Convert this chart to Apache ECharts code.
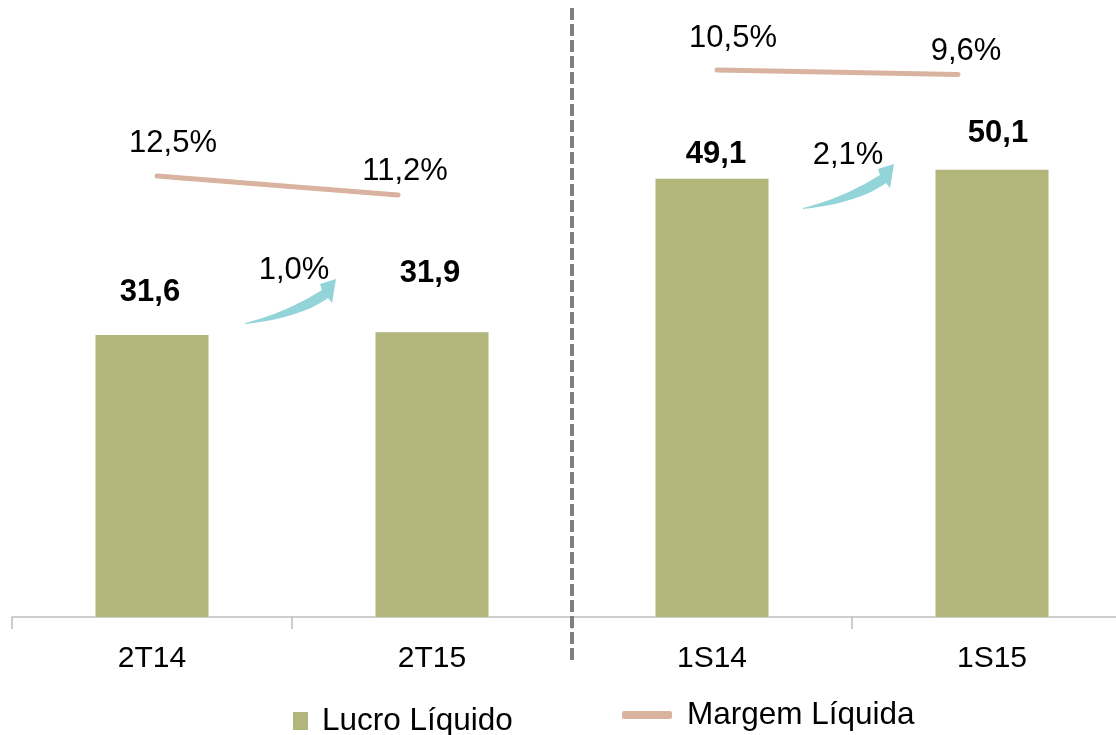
<!DOCTYPE html>
<html>
<head>
<meta charset="utf-8">
<style>
    html, body { margin: 0; padding: 0; background: #fff; }
    #chart { width: 1116px; height: 735px; }
</style>
<script src="https://cdn.jsdelivr.net/npm/echarts@6/dist/echarts.min.js"></script>
</head>
<body>
<div id="chart"></div>
<script>
// dados
const periodosTri = ['2T14', '2T15'];
const periodosSem = ['1S14', '1S15'];
const lucroTri = [31.6, 31.9];
const lucroSem = [49.1, 50.1];
const margemTri = [12.5, 11.2];
const margemSem = [10.5, 9.6];
const crescimento = ['1,0%', '2,1%'];

// deslocamento dos rótulos (estilo, fora dos dados)
const offLucroTri = [[-2, -27], [-2, -43]];
const offLucroSem = [[4, -9], [6, -21]];
const offMargemTri = [[16, -17], [7, -8]];
const offMargemSem = [[16, -15], [8, -7]];

const corBarra = '#b2b67b';
const corLinha = '#d9b3a0';
const corSeta = '#93d4d8';
const fonte = '"Liberation Sans", Arial, sans-serif';

function fmt(v) {
    return v.toFixed(1).replace('.', ',');
}

function barras(valores, offs) {
    return valores.map(function (v, i) {
        return { value: v, label: { offset: offs[i] } };
    });
}

function linha(valores, offs) {
    return valores.map(function (v, i) {
        return { value: [i, v], label: { offset: offs[i] } };
    });
}

// curva quadrática amostrada
function quad(p0, c, p1, n) {
    let pts = [];
    for (let i = 0; i <= n; i++) {
        let t = i / n, u = 1 - t;
        pts.push([u * u * p0[0] + 2 * u * t * c[0] + t * t * p1[0],
                  u * u * p0[1] + 2 * u * t * c[1] + t * t * p1[1]]);
    }
    return pts;
}

// seta curva (coordenadas locais, a partir da cauda)
const seta = [].concat(
    quad([0, 0], [40, -10], [77, -33], 16),
    [[75, -39], [91, -44], [87, -20]],
    quad([83, -25], [55, -5], [0, 1], 16)
);

let myChart = echarts.init(document.getElementById('chart'));

function eixoCategoria(grid, dados) {
    return {
        type: 'category',
        gridIndex: grid,
        data: dados,
        axisLine: { show: true, lineStyle: { color: '#bfbfbf', width: 1.5 } },
        axisTick: { show: true, length: 12, lineStyle: { color: '#bfbfbf', width: 1.5 } },
        axisLabel: { color: '#000', fontSize: 30, fontFamily: fonte, margin: 27 }
    };
}

function eixoOculto(tipo, grid, min, max) {
    return { type: tipo, gridIndex: grid, min: min, max: max, show: false, splitLine: { show: false } };
}

let labelBarra = {
    show: true,
    position: 'top',
    distance: 0,
    color: '#000',
    fontSize: 31,
    fontWeight: 'bold',
    fontFamily: fonte,
    formatter: function (p) { return fmt(p.value); }
};

let labelLinha = {
    show: true,
    position: 'top',
    distance: 0,
    color: '#000',
    fontSize: 31,
    fontFamily: fonte,
    formatter: function (p) { return fmt(p.value[1]) + '%'; }
};

function serieLinha(eixo, valores, offs) {
    return {
        name: 'Margem Líquida', type: 'line', xAxisIndex: eixo, yAxisIndex: eixo,
        symbol: 'circle', symbolSize: 1, showSymbol: true, clip: false,
        color: corLinha, itemStyle: { color: corLinha },
        lineStyle: { color: corLinha, width: 5, cap: 'round' },
        label: labelLinha, data: linha(valores, offs)
    };
}

let option = {
    animation: false,
    grid: [
        { left: 12, top: 10, width: 560, bottom: 118, outerBoundsMode: 'none' },
        { left: 572, top: 10, width: 560, bottom: 118, outerBoundsMode: 'none' }
    ],
    legend: [
        {
            data: ['Lucro Líquido'],
            left: 288, top: 700,
            icon: 'rect', itemWidth: 15, itemHeight: 18,
            itemStyle: { borderWidth: 0 },
            textStyle: { color: '#000', fontSize: 31.5, fontFamily: fonte, padding: [0, 0, 0, 9] }
        },
        {
            data: ['Margem Líquida'],
            left: 617, top: 694,
            icon: 'roundRect', itemWidth: 50, itemHeight: 8,
            itemStyle: { borderWidth: 0 },
            textStyle: { color: '#000', fontSize: 31.5, fontFamily: fonte, padding: [0, 0, 0, 10] }
        }
    ],
    xAxis: [
        eixoCategoria(0, periodosTri),
        eixoCategoria(1, periodosSem),
        eixoOculto('value', 0, -0.602, 1.722),
        eixoOculto('value', 1, -0.602, 1.722)
    ],
    yAxis: [
        eixoOculto('value', 0, 0, 68),
        eixoOculto('value', 1, 0, 68),
        eixoOculto('value', 0, -17.67, 23.86),
        eixoOculto('value', 1, -99, 22.5)
    ],
    series: [
        {
            name: 'Lucro Líquido', type: 'bar', xAxisIndex: 0, yAxisIndex: 0,
            barWidth: 113, itemStyle: { color: corBarra },
            label: labelBarra, data: barras(lucroTri, offLucroTri)
        },
        {
            name: 'Lucro Líquido', type: 'bar', xAxisIndex: 1, yAxisIndex: 1,
            barWidth: 113, itemStyle: { color: corBarra },
            label: labelBarra, data: barras(lucroSem, offLucroSem)
        },
        serieLinha(2, margemTri, offMargemTri),
        serieLinha(3, margemSem, offMargemSem)
    ],
    graphic: [
        // separador tracejado
        {
            type: 'line', z: 10,
            shape: { x1: 572, y1: 8, x2: 572, y2: 662 },
            style: { stroke: '#808080', lineWidth: 4, lineDash: [12, 4] }
        },
        { type: 'polygon', x: 245, y: 323, shape: { points: seta }, style: { fill: corSeta } },
        { type: 'polygon', x: 803, y: 208, shape: { points: seta }, style: { fill: corSeta } },
        {
            type: 'text', x: 294, y: 270,
            style: { text: crescimento[0], fill: '#000', fontSize: 31, fontFamily: fonte, textAlign: 'center', textVerticalAlign: 'middle' }
        },
        {
            type: 'text', x: 848, y: 155,
            style: { text: crescimento[1], fill: '#000', fontSize: 31, fontFamily: fonte, textAlign: 'center', textVerticalAlign: 'middle' }
        }
    ]
};

myChart.setOption(option);
window.addEventListener('resize', function () {
    myChart.resize();
});
</script>
</body>
</html>
